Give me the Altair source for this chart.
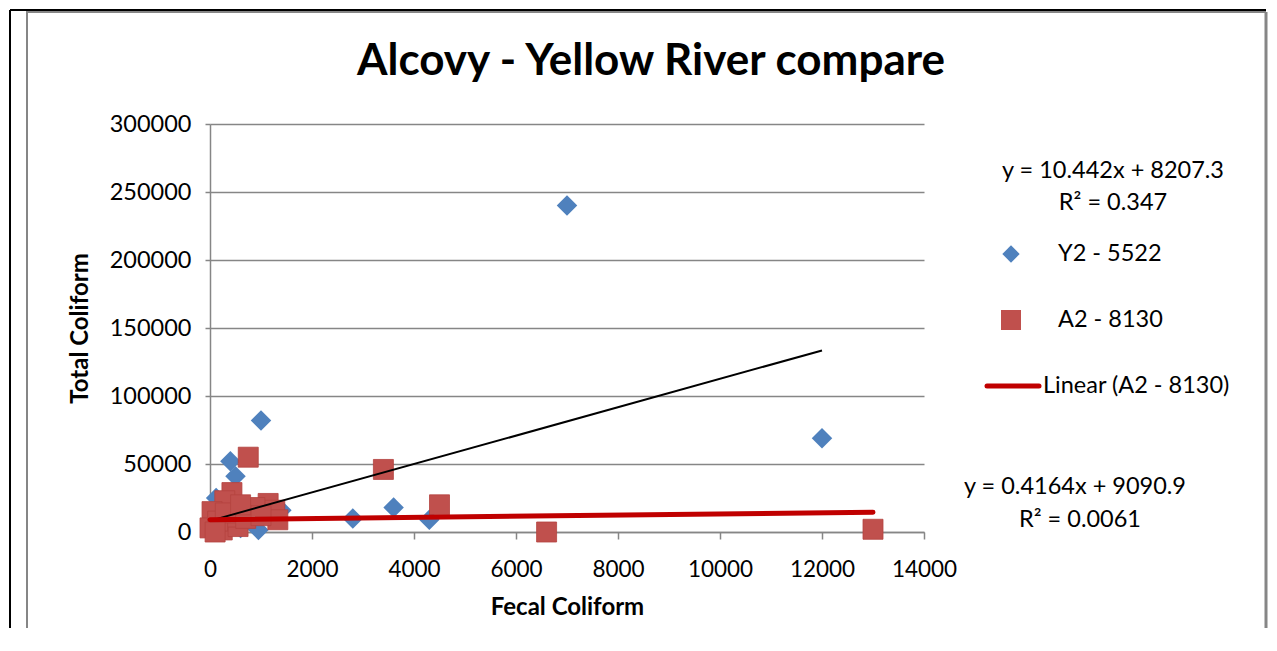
import altair as alt
import pandas as pd

# ---- data ----
blue_x = [7000, 12000, 1000, 400, 500, 2800, 3600, 4300, 1400, 950, 120, 200, 300, 800, 600, 50, 1200]
blue_y = [240000, 69000, 82000, 52000, 41000, 10000, 18000, 9000, 16000, 1500, 25000, 5000, 12000, 8000, 3000, 1000, 10000]

red_x = [750, 3400, 4500, 6600, 13000, 430, 290, 1140, 1270, 880, 40, 0, 240, 550, 1330, 490, 150, 300, 700, 1000, 100, 600]
red_y = [55000, 46000, 20000, 0, 2000, 29000, 23000, 21000, 16000, 18000, 15000, 3000, 1500, 4000, 9000, 11000, 8000, 14000, 10000, 12000, 0, 20000]

x_ticks = [0, 2000, 4000, 6000, 8000, 10000, 12000, 14000]
y_ticks = [0, 50000, 100000, 150000, 200000, 250000, 300000]

blue_slope, blue_intercept = 10.442, 8207.3
red_slope, red_intercept = 0.4164, 9090.9

title_text = "Alcovy - Yellow River compare"
eq_blue = ["y = 10.442x + 8207.3", "R² = 0.347"]
eq_red = ["y = 0.4164x + 9090.9", "R² = 0.0061"]
legend_labels = ["Y2 - 5522", "A2 - 8130", "Linear (A2 - 8130)"]

FONT = "Lato"
GRAY = "#868686"
BLUE = "#4F81BD"
RED = "#C0504D"
TREND_RED = "#C00000"

W, H = 714, 408
PAD_L, PAD_T = 202, 116
TOTAL_W, TOTAL_H = 1261, 620

blue_df = pd.DataFrame({"x": blue_x, "y": blue_y})
red_df = pd.DataFrame({"x": red_x, "y": red_y})
bx = [min(blue_x), max(blue_x)]
rx = [min(red_x), max(red_x)]
blue_trend = pd.DataFrame({"x": bx, "y": [blue_slope * v + blue_intercept for v in bx]})
red_trend = pd.DataFrame({"x": rx, "y": [red_slope * v + red_intercept for v in rx]})

xs = alt.Scale(domain=[0, 14000], nice=False)
ys = alt.Scale(domain=[0, 300000], nice=False)

X = alt.X("x:Q", scale=xs, axis=alt.Axis(
    values=x_ticks, format="d", grid=False, title="Fecal Coliform",
    tickSize=7, labelPadding=19, labelFlush=False, labelOverlap=False,
    labelFontSize=22.5,
    titleX=W / 2, titleY=75, titleBaseline="middle", titleAlign="center"))
Y = alt.Y("y:Q", scale=ys, axis=alt.Axis(
    values=y_ticks, format="d", grid=True, title="Total Coliform",
    tickSize=5, labelPadding=14, labelFlush=False, labelOverlap=False,
    titleX=-130, titleY=H / 2, titleAngle=-90,
    titleBaseline="middle", titleAlign="center"))

blue_pts = alt.Chart(blue_df).mark_point(
    shape="diamond", filled=True, size=420, color=BLUE, opacity=1
).encode(x=X, y=Y)

red_pts = alt.Chart(red_df).mark_square(
    size=400, color=RED, opacity=1, stroke="#B4433F", strokeWidth=0.8
).encode(x=X, y=Y)

blue_line = alt.Chart(blue_trend).mark_line(color="black", strokeWidth=2).encode(x=X, y=Y)
red_line = alt.Chart(red_trend).mark_line(color=TREND_RED, strokeWidth=5, strokeCap="round").encode(x=X, y=Y)


def txt(t, x, y, size=23.5, weight="normal", align="center"):
    return alt.Chart(alt.Data(values=[{}])).mark_text(
        text=t, font=FONT, fontSize=size, fontWeight=weight, align=align,
        baseline="middle", color="black"
    ).encode(x=alt.value(x), y=alt.value(y))


def rule(x1, x2, y1, y2, color, width):
    return alt.Chart(alt.Data(values=[{}])).mark_rule(
        color=color, strokeWidth=width
    ).encode(x=alt.value(x1), x2=alt.value(x2), y=alt.value(y1), y2=alt.value(y2))


title = txt(title_text, 441, -62, size=44, weight="bold")

leg_diamond = alt.Chart(alt.Data(values=[{}])).mark_point(
    shape="diamond", filled=True, size=300, color=BLUE, opacity=1
).encode(x=alt.value(801), y=alt.value(130))
leg_square = alt.Chart(alt.Data(values=[{}])).mark_square(
    size=400, color=RED, opacity=1
).encode(x=alt.value(801), y=alt.value(196))
leg_line = alt.Chart(alt.Data(values=[{}])).mark_rule(
    color=TREND_RED, strokeWidth=5, strokeCap="round"
).encode(x=alt.value(777), x2=alt.value(829), y=alt.value(262))

legend = [
    txt(eq_blue[0], 903, 47), txt(eq_blue[1], 903, 79),
    leg_diamond, txt(legend_labels[0], 848, 130, align="left"),
    leg_square, txt(legend_labels[1], 848, 196, align="left"),
    leg_line, txt(legend_labels[2], 833, 262, align="left"),
    txt(eq_red[0], 865, 363), txt(eq_red[1], 870, 396),
]

bottom = TOTAL_H - PAD_T
right = TOTAL_W - PAD_L - 3
frame = [
    rule(-200, right, -114, -114, "black", 2),
    rule(-200, -200, -114, bottom, "black", 2),
    rule(-183, right, -112, -112, GRAY, 2),
    rule(-183, -183, -113, bottom, GRAY, 2),
    rule(right, right, -112, bottom, GRAY, 3),
]

chart = alt.layer(
    blue_pts, red_pts, blue_line, red_line, title, *legend, *frame
).properties(
    width=W, height=H,
    padding={"left": PAD_L, "top": PAD_T, "right": TOTAL_W - PAD_L - W,
             "bottom": TOTAL_H - PAD_T - H},
    autosize=alt.AutoSizeParams(type="none"),
    background="white",
).configure_view(stroke=None).configure_axis(
    labelFont=FONT, labelFontSize=23.5, labelColor="black",
    titleFont=FONT, titleFontSize=24, titleFontWeight="bold", titleColor="black",
    domainColor=GRAY, domainWidth=1.5, tickColor=GRAY, tickWidth=1.5,
    gridColor=GRAY, gridWidth=1.5,
)

chart.save("out.html", embed_options={"renderer": "svg", "actions": False})
